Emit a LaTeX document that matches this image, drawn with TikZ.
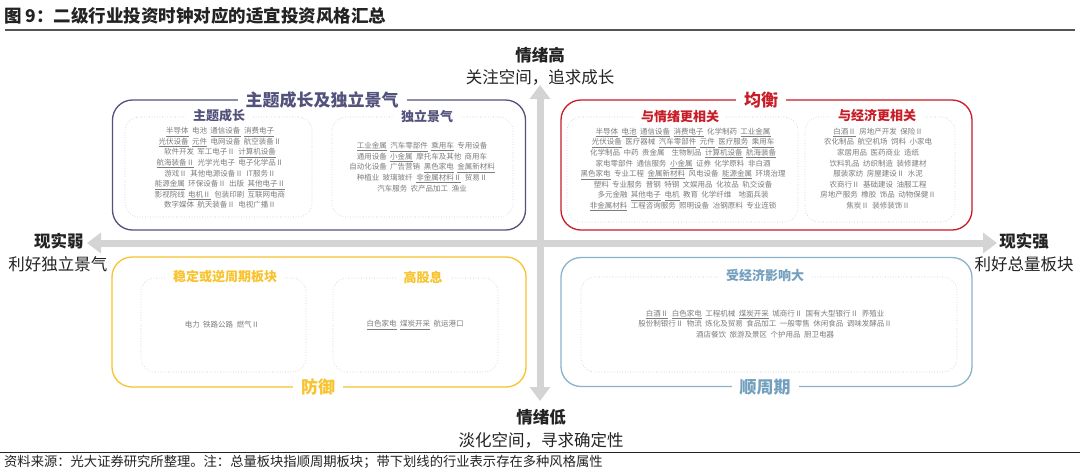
\documentclass[tikz,border=0pt]{standalone}
\usepackage{fontspec}
\setmainfont{Noto Sans CJK SC}
\usetikzlibrary{arrows.meta}
\definecolor{purpleC}{RGB}{82,82,125}
\definecolor{redC}{RGB}{200,28,38}
\definecolor{yellowC}{RGB}{248,195,45}
\definecolor{blueC}{RGB}{140,178,202}
\definecolor{blueT}{RGB}{115,160,190}
\definecolor{itemgray}{RGB}{125,125,125}
\definecolor{axisgray}{RGB}{212,212,212}
\definecolor{darktext}{RGB}{35,35,35}
\definecolor{rulegray}{RGB}{85,85,85}
\newcommand{\uln}[1]{\underline{#1}}
\newcommand{\itemfont}{\fontsize{7.5}{10.6}\selectfont\setlength{\spaceskip}{3.5pt plus 1pt minus 0.5pt}}
\begin{document}
\begin{tikzpicture}[x=1pt,y=-1pt,
  outer/.style={draw, line width=1.3pt, rounded corners=20pt, inner sep=0pt},
  innerbox/.style={draw=gray!45, dotted, line width=0.6pt, rounded corners=14pt, inner sep=0pt},
  otitle/.style={fill=white, inner xsep=8pt, inner ysep=1pt, font=\fontsize{17}{17}\selectfont\bfseries},
  ititle/.style={fill=white, inner xsep=7pt, inner ysep=1pt, font=\fontsize{13}{13}\selectfont\bfseries},
  items/.style={align=center, text=itemgray, font=\itemfont, inner sep=0pt},
  axis/.style={line width=7pt, draw=axisgray, {Triangle[width=20pt,length=14pt]}-{Triangle[width=20pt,length=14pt]}},
  lblb/.style={text=darktext, inner sep=0pt, font=\fontsize{16.5}{16.5}\selectfont\bfseries},
  lbl/.style={text=darktext, inner sep=0pt, font=\fontsize{16.5}{16.5}\selectfont}
]
\useasboundingbox (0,0) rectangle (1080,472);
\fill[white] (0,0) rectangle (1080,472);

% header and footer
\node[anchor=west, text=darktext, inner sep=0pt, font=\fontsize{17.5}{17.5}\selectfont\bfseries] (title) at (4,16) {图 9：二级行业投资时钟对应的适宜投资风格汇总};
\draw[rulegray, line width=2.5pt] (5,30) -- (1075,30);
\draw[darktext, line width=1pt] (0,452) -- (1080,452);
\node[anchor=west, text=darktext, inner sep=0pt, font=\fontsize{13.3}{13.3}\selectfont] (source) at (4,462) {资料来源：光大证券研究所整理。注：总量板块指顺周期板块；带下划线的行业表示存在多种风格属性};

% axes
\coordinate (vtop) at (540,85);
\coordinate (vbot) at (540,401);
\coordinate (hleft) at (87,243);
\coordinate (hright) at (997,243);
\draw[axis] (hleft) -- (hright);
\draw[axis] (vbot) -- (vtop);

% axis labels
\node[lblb] (high) at (540,55) {情绪高};
\node[lbl] (high2) at (540,77) {关注空间，追求成长};
\node[lblb] (low) at (541,417) {情绪低};
\node[lbl] (low2) at (541,440) {淡化空间，寻求确定性};
\node[lblb] (weak) at (59,241) {现实弱};
\node[lbl] (weak2) at (58,264) {利好独立景气};
\node[lblb] (strong) at (1024,241) {现实强};
\node[lbl] (strong2) at (1024,264) {利好总量板块};

% outer boxes
\node[outer, draw=purpleC, minimum width=413pt, minimum height=130pt] (tl) at (319,165) {};
\node[outer, draw=redC, minimum width=411pt, minimum height=130pt] (tr) at (766.5,165) {};
\node[outer, draw=yellowC, minimum width=414pt, minimum height=130pt] (bl) at (319,322) {};
\node[outer, draw=blueC, minimum width=411pt, minimum height=129pt] (br) at (766.5,322) {};

% inner boxes
\node[innerbox, minimum width=187pt, minimum height=100pt] (tlA) at (218.5,167) {};
\node[innerbox, minimum width=181pt, minimum height=100pt] (tlB) at (422.5,167) {};
\node[innerbox, minimum width=231pt, minimum height=105pt] (trA) at (682.5,169.5) {};
\node[innerbox, minimum width=150pt, minimum height=105pt] (trB) at (880,169.5) {};
\node[innerbox, minimum width=165pt, minimum height=94pt] (blA) at (223.5,325) {};
\node[innerbox, minimum width=165pt, minimum height=94pt] (blB) at (415.5,325) {};
\node[innerbox, minimum width=376pt, minimum height=95pt] (brA) at (769,324.5) {};

% outer titles
\node[otitle, text=purpleC] (tlT) at (322,100) {主题成长及独立景气};
\node[otitle, text=redC] (trT) at (761,100) {均衡};
\node[otitle, text=yellowC] (blT) at (318,387) {防御};
\node[otitle, text=blueT] (brT) at (765,387) {顺周期};

% inner titles
\node[ititle, text=purpleC] (tlAT) at (219,116) {主题成长};
\node[ititle, text=purpleC] (tlBT) at (427,116) {独立景气};
\node[ititle, text=redC] (trAT) at (680,117) {与情绪更相关};
\node[ititle, text=redC] (trBT) at (877,116) {与经济更相关};
\node[ititle, text=yellowC] (blAT) at (225,277) {稳定或逆周期板块};
\node[ititle, text=yellowC] (blBT) at (423,277) {高股息};
\node[ititle, text=blueT] (brAT) at (765,276) {受经济影响大};

% items
\node[items] (tlAI) at (220,168) {\uln{半导体} 电池 \uln{通信设备} \uln{消费电子}\\
\uln{光伏设备} \uln{元件} 电网设备 航空装备Ⅱ\\
软件开发 军工电子Ⅱ \uln{计算机设备}\\
\uln{航海装备Ⅱ} 光学光电子 电子化学品Ⅱ\\
游戏Ⅱ 其他电源设备Ⅱ IT服务Ⅱ\\
\uln{能源金属} 环保设备Ⅱ 出版 \uln{其他电子Ⅱ}\\
影视院线 \uln{电机Ⅱ} 包装印刷 互联网电商\\
数字媒体 航天装备Ⅱ 电视广播Ⅱ};

\node[items] (tlBI) at (422,167) {\uln{工业金属} \uln{汽车零部件} \uln{乘用车} 专用设备\\
通用设备 \uln{小金属} 摩托车及其他 商用车\\
自动化设备 广告营销 \uln{黑色家电} \uln{金属新材料}\\
种植业 玻璃玻纤 \uln{非金属材料Ⅱ} 贸易Ⅱ\\
汽车服务 农产品加工 渔业};

\node[items] (trAI) at (683,169.5) {\uln{半导体} \uln{电池} \uln{通信设备} \uln{消费电子} 化学制药 \uln{工业金属}\\
\uln{光伏设备} 医疗器械 \uln{汽车零部件} \uln{元件} \uln{医疗服务} \uln{乘用车}\\
化学制品 中药 贵金属 \ 生物制品 \uln{计算机设备} \uln{航海装备}\\
家电零部件 通信服务 \uln{小金属} 证券 化学原料 非白酒\\
\uln{黑色家电} 专业工程 \uln{金属新材料} 风电设备 \uln{能源金属} 环境治理\\
塑料 专业服务 普钢 特钢 文娱用品 化妆品 轨交设备\\
多元金融 \uln{其他电子} \uln{电机} 教育 化学纤维 \ 地面兵装\\
\uln{非金属材料} 工程咨询服务 照明设备 冶钢原料 专业连锁};

\node[items] (trBI) at (878,168.5) {\uln{白酒Ⅱ} 房地产开发 保险Ⅱ\\
农化制品 航空机场 饲料 小家电\\
家居用品 医药商业 造纸\\
饮料乳品 纺织制造 装修建材\\
服装家纺 房屋建设Ⅱ 水泥\\
农商行Ⅱ 基础建设 油服工程\\
房地产服务 橡胶 饰品 动物保健Ⅱ\\
焦炭Ⅱ 装修装饰Ⅱ};

\node[items] (blAI) at (222,325) {电力 铁路公路 燃气Ⅱ};
\node[items] (blBI) at (415,325) {\uln{白色家电} \uln{煤炭开采} 航运港口};

\node[items] (brAI) at (765,324) {\uln{白酒Ⅱ} \uln{白色家电} 工程机械 \uln{煤炭开采} 城商行Ⅱ 国有大型银行Ⅱ 养殖业\\
股份制银行Ⅱ 物流 炼化及贸易 食品加工 一般零售 休闲食品 调味发酵品Ⅱ\\
酒店餐饮 旅游及景区 个护用品 厨卫电器};
\end{tikzpicture}
\end{document}
